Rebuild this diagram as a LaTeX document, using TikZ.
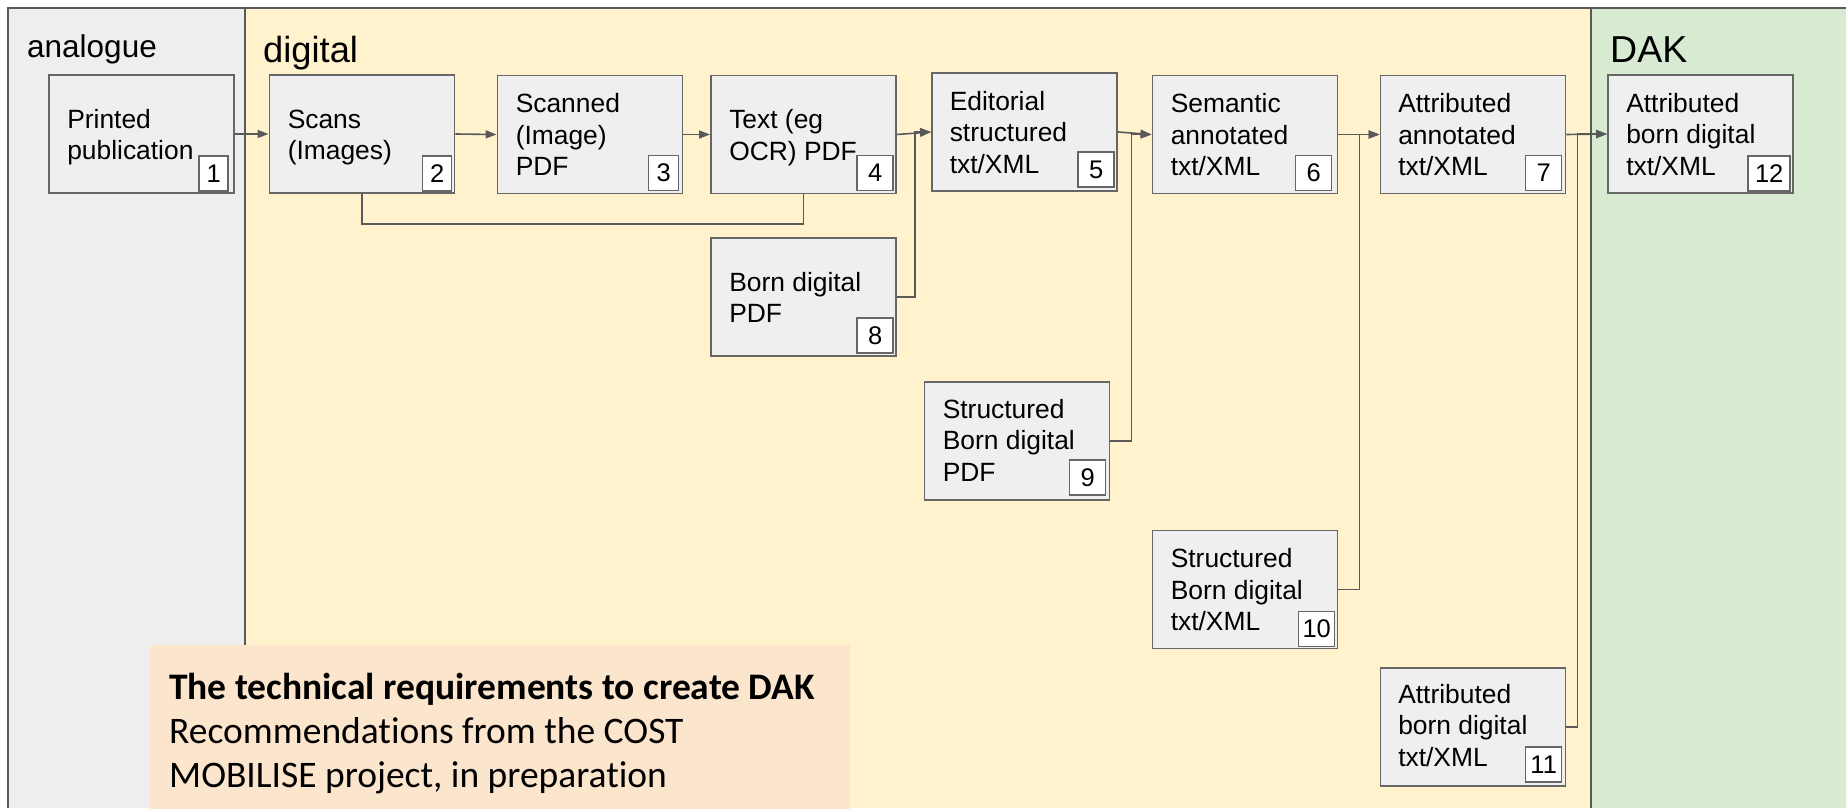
\documentclass[tikz,border=0pt]{standalone}
\usepackage{fontspec}
\setmainfont{Liberation Sans}
\newfontfamily\notefont[Ligatures=NoCommon]{Carlito}
\usetikzlibrary{arrows.meta,calc}

\definecolor{analoguefill}{HTML}{EEEEEE}
\definecolor{digitalfill}{HTML}{FFF2CC}
\definecolor{dakfill}{HTML}{D9EAD3}
\definecolor{notefill}{HTML}{FCE5CD}
\definecolor{boxfill}{HTML}{EFEFEF}
\definecolor{boxline}{HTML}{666666}
\definecolor{flowline}{HTML}{595959}

\newcommand\boxfont{\fontsize{26.4}{31.5}\selectfont}
\newcommand\numfont{\fontsize{25.5}{28}\selectfont}
\newcommand\stagelines[1]{\begin{tabular}[t]{@{}l@{}}#1\end{tabular}}

\tikzset{
  frame/.style={draw=flowline, line width=2pt},
  stage/.style={draw=boxline, fill=boxfill, line width=1.9pt,
    minimum width=185pt, minimum height=118pt, inner sep=0pt},
  stagetext/.style={anchor=base west, inner sep=0pt, font=\boxfont},
  numbox/.style={draw=boxline, fill=white, line width=1.5pt,
    minimum width=36pt, minimum height=35pt, inner sep=0pt,
    font=\numfont, anchor=south east},
  header/.style={anchor=base west, inner sep=0pt},
  flow/.style={draw=flowline, line width=1.6pt, -{Triangle[length=11pt,width=8pt]}},
  plain/.style={draw=flowline, line width=1.6pt},
}

\begin{document}
\begin{tikzpicture}[x=1pt, y=-1pt]
\useasboundingbox (0,0) rectangle (1846,808);

% the three domains
\fill[analoguefill] (8,8) rectangle (245,808);
\fill[digitalfill] (245,8) rectangle (1591,808);
\fill[dakfill] (1591,8) rectangle (1846,808);
\draw[frame] (8,808) -- (8,8) -- (1846,8);
\draw[frame] (245,8) -- (245,808);
\draw[frame] (1591,8) -- (1591,808);

\node[header, font=\fontsize{31.5}{36}\selectfont] (hanalogue) at (27,57.3) {analogue};
\node[header, font=\fontsize{36.3}{44}\selectfont] (hdigital) at (263,62.7) {digital};
\node[header, font=\fontsize{37.5}{44}\selectfont] (hdak) at (1610,63) {DAK};

% stages
\node[stage] (b1)  at (141.5,134)  {};
\node[stage] (b2)  at (362,134)    {};
\node[stage] (b3)  at (590,134.5)  {};
\node[stage] (b4)  at (803.5,134.5) {};
\node[stage] (b8)  at (803.5,297)  {};
\node[stage] (b5)  at (1024.5,132) {};
\node[stage] (b6)  at (1245,134.5) {};
\node[stage] (b9)  at (1017,441)   {};
\node[stage] (b7)  at (1473,134.5) {};
\node[stage] (b10) at (1245,589.5) {};
\node[stage] (b11) at (1473,727)   {};
\node[stage] (b12) at (1700.5,134) {};

% stage texts
\node[stagetext] (t1)  at ($(b1.north west)+(19,54)$)  {\stagelines{Printed\\publication}};
\node[stagetext] (t2)  at ($(b2.north west)+(19,54)$)  {\stagelines{Scans\\(Images)}};
\node[stagetext] (t3)  at ($(b3.north west)+(19,38)$)  {\stagelines{Scanned\\(Image)\\PDF}};
\node[stagetext] (t4)  at ($(b4.north west)+(19,54)$)  {\stagelines{Text (eg\\OCR) PDF}};
\node[stagetext] (t8)  at ($(b8.north west)+(19,54)$)  {\stagelines{Born digital\\PDF}};
\node[stagetext] (t5)  at ($(b5.north west)+(18.5,38)$) {\stagelines{Editorial\\structured\\txt/XML}};
\node[stagetext] (t6)  at ($(b6.north west)+(19,38)$)  {\stagelines{Semantic\\annotated\\txt/XML}};
\node[stagetext] (t9)  at ($(b9.north west)+(19,37)$)  {\stagelines{Structured\\Born digital\\PDF}};
\node[stagetext] (t7)  at ($(b7.north west)+(18.5,38)$) {\stagelines{Attributed\\annotated\\txt/XML}};
\node[stagetext] (t10) at ($(b10.north west)+(19,38)$) {\stagelines{Structured\\Born digital\\txt/XML}};
\node[stagetext] (t11) at ($(b11.north west)+(18.5,36)$) {\stagelines{Attributed\\born digital\\txt/XML}};
\node[stagetext] (t12) at ($(b12.north west)+(19,38)$) {\stagelines{Attributed\\born digital\\txt/XML}};

% stage numbers
\node[numbox, minimum width=29pt] (n1) at ($(b1.south east)+(-6,-2)$) {1};
\node[numbox, minimum width=29pt] (n2) at ($(b2.south east)+(-3,-2)$) {2};
\node[numbox, minimum width=30pt] (n3) at ($(b3.south east)+(-4,-3)$) {3};
\node[numbox] (n4)  at ($(b4.south east)+(-3,-3)$)  {4};
\node[numbox] (n8)  at ($(b8.south east)+(-3,-3)$)  {8};
\node[numbox] (n5)  at ($(b5.south east)+(-3,-4)$)  {5};
\node[numbox] (n6)  at ($(b6.south east)+(-6,-3)$)  {6};
\node[numbox] (n9)  at ($(b9.south east)+(-4,-5)$)  {9};
\node[numbox] (n7)  at ($(b7.south east)+(-4,-3)$)  {7};
\node[numbox] (n10) at ($(b10.south east)+(-3,-2)$) {10};
\node[numbox] (n11) at ($(b11.south east)+(-4,-4)$) {11};
\node[numbox, minimum width=42pt] (n12) at ($(b12.south east)+(-3,-2)$) {12};

% flow between stages
\draw[flow] (b1.east) -- (b2.west);
\draw[flow] (b2.east) -- (b3.west);
\draw[flow] (b3.east) -- (b4.west);
\draw[plain] (b2.south) -- ++(0,30) -| (b4.south);
\draw[flow] (b4.east) -- (b5.west);
\draw[flow] (b8.east) -- ++(18,0) |- (b5.west);
\draw[flow] (b5.east) -- (b6.west);
\draw[flow] (b9.east) -- ++(21,0) |- (b6.west);
\draw[flow] (b6.east) -- (b7.west);
\draw[flow] (b10.east) -- ++(21,0) |- (b7.west);
\draw[flow] (b7.east) -- (b12.west);
\draw[flow] (b11.east) -- ++(11,0) |- (b12.west);

% reference note
\node[fill=notefill, anchor=north west, minimum width=700pt, minimum height=170pt,
      inner sep=0pt] (note) at (150,645) {};
\node[anchor=base west, inner sep=0pt, font=\notefont\fontsize{37.5}{44}\selectfont]
  (notetext) at (169,699)
  {\stagelines{\textbf{The technical requirements to create DAK}\\
   Recommendations from the COST\\
   MOBILISE project, in preparation}};
\end{tikzpicture}
\end{document}
